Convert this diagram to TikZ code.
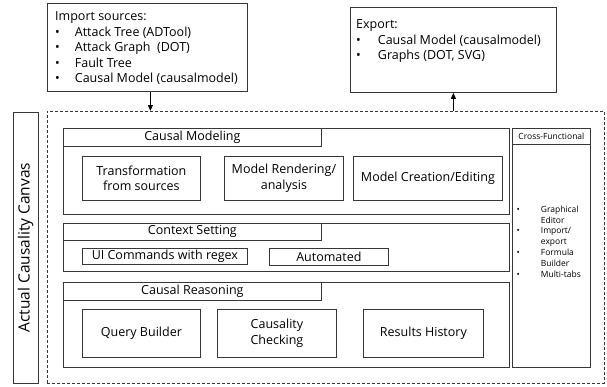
\documentclass[tikz,border=0pt]{standalone}
\usepackage{fontspec}
\setmainfont{Open Sans}
\usepackage{tikz}
\usetikzlibrary{arrows.meta,positioning,calc}
\definecolor{linegray}{RGB}{55,55,55}

\begin{document}
\begin{tikzpicture}[x=1pt,y=-1pt,
  every node/.style={font=\fontsize{12.5}{15.5}\selectfont},
  box/.style={draw=linegray,line width=0.8pt,anchor=north west,
              inner sep=0pt,align=center},
  arr/.style={-{Triangle[length=6pt,width=5pt]},line width=0.8pt}]
  \useasboundingbox (0,0) rectangle (607,386);

  % import / export
  \node[box,minimum width=200pt,minimum height=88pt] (import) at (47,3) {};
  \node[anchor=north west,inner sep=0pt] (importtxt) at (55,9.5) {%
    \begin{tabular}{@{}l@{\hspace{15pt}}l@{}}
      \multicolumn{2}{@{}l}{Import sources:}\\
      \textbullet & Attack Tree (ADTool)\\
      \textbullet & Attack Graph~ (DOT)\\
      \textbullet & Fault Tree\\
      \textbullet & Causal Model (causalmodel)
    \end{tabular}};
  \node[box,minimum width=206pt,minimum height=85pt] (export) at (350,7) {};
  \node[anchor=north west,inner sep=0pt] (exporttxt) at (356,17.5) {%
    \begin{tabular}{@{}l@{\hspace{17pt}}l@{}}
      \multicolumn{2}{@{}l}{Export:}\\
      \textbullet & Causal Model (causalmodel)\\
      \textbullet & Graphs (DOT, SVG)
    \end{tabular}};

  % canvas
  \node[box,dash pattern=on 3pt off 2pt,minimum width=557pt,
        minimum height=272pt] (canvas) at (47,111) {};
  \node[draw=linegray,line width=0.8pt,inner sep=0pt,rotate=90,
        minimum width=271pt,minimum height=25pt,
        font=\fontsize{15.5}{18}\selectfont] (canvaslabel) at (25.5,247.5)
        {Actual Causality Canvas};

  % modules
  \foreach \name/\x/\y/\w/\h/\txt in {
    modeling/63/128/446/86/{},
    modelingtitle/63/128/258/18/{Causal Modeling},
    context/63/223/446/48/{},
    contexttitle/63/223/258/17/{Context Setting},
    reasoning/63/282/446/85/{},
    reasoningtitle/63/282/258/18/{Causal Reasoning},
    trans/82/156/118/44/{Transformation\\from sources},
    render/224/156/119/44/{Model Rendering/\\analysis},
    create/353/156/149/44/{Model Creation/Editing},
    regex/82/248/165/16/{UI Commands with regex},
    auto/269/248/119/17/{Automated},
    query/82/309/118/48/{Query Builder},
    check/217/309/119/48/{Causality\\Checking},
    history/363/309/120/48/{Results History}}
  {
    \node[box,minimum width=\w pt,minimum height=\h pt] (\name) at (\x,\y) {\txt};
  }

  % cross-functional
  \node[box,minimum width=78pt,minimum height=239pt] (cross) at (512,128) {};
  \node[box,minimum width=78pt,minimum height=16pt,
        font=\fontsize{8.5}{10}\selectfont] (crosstitle) at (512,128)
        {Cross-Functional};
  \node[anchor=north west,inner sep=0pt,
        font=\fontsize{8.5}{10.8}\selectfont] (crosstxt) at (516.5,204.6) {%
    \begin{tabular}{@{}l@{\hspace{21pt}}l@{}}
      \textbullet & Graphical\\
                  & Editor\\
      \textbullet & Import/\\
                  & export\\
      \textbullet & Formula\\
                  & Builder\\
      \textbullet & Multi-tabs
    \end{tabular}};

  % connections
  \draw[arr,draw=black] ([xshift=3pt]import.south) -- ([xshift=3pt]import.south |- canvas.north);
  \draw[arr,draw=black] (export.south |- canvas.north) -- (export.south);
\end{tikzpicture}
\end{document}
